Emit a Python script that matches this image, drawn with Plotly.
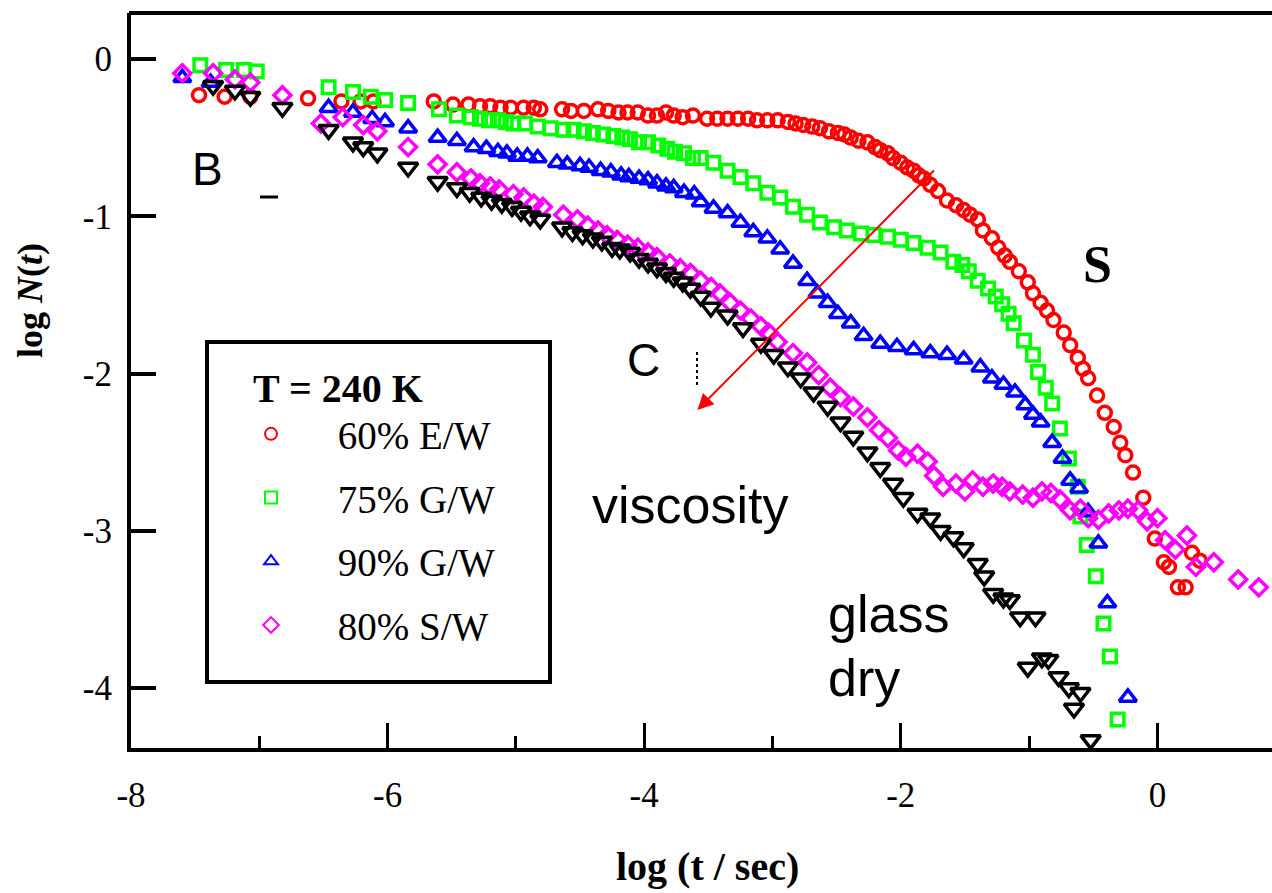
import plotly.graph_objects as go

# ---------------- data (log t, log N) ----------------
ew60_x = [-7.47, -7.27, -7.07, -6.62, -6.36, -6.21, -6.11, -5.64, -5.49, -5.37, -5.28, -5.20, -5.12, -5.04,
          -4.94, -4.86, -4.81, -4.64, -4.57, -4.47, -4.36, -4.28, -4.20, -4.13, -4.05, -3.97, -3.90, -3.83,
          -3.77, -3.70, -3.62, -3.51, -3.43, -3.35, -3.27, -3.19, -3.12, -3.04, -2.96, -2.88, -2.82, -2.76,
          -2.69, -2.63, -2.56, -2.49, -2.44, -2.39, -2.33, -2.26, -2.20, -2.16, -2.10, -2.06, -2.00, -1.95,
          -1.90, -1.86, -1.82, -1.77, -1.71, -1.64, -1.57, -1.51, -1.46, -1.40, -1.36, -1.29, -1.24, -1.19,
          -1.15, -1.08, -1.01, -0.97, -0.91, -0.86, -0.81, -0.73, -0.68, -0.62, -0.58, -0.54, -0.47, -0.41,
          -0.34, -0.29, -0.25, -0.19, -0.11, -0.02, 0.05, 0.09, 0.16, 0.22, 0.27, 0.33]
ew60_y = [-0.23, -0.24, -0.24, -0.25, -0.27, -0.27, -0.27, -0.27, -0.29, -0.29, -0.30, -0.30, -0.31, -0.31,
          -0.31, -0.31, -0.32, -0.32, -0.33, -0.33, -0.32, -0.33, -0.34, -0.34, -0.34, -0.36, -0.36, -0.34,
          -0.36, -0.37, -0.36, -0.38, -0.38, -0.38, -0.38, -0.38, -0.39, -0.39, -0.39, -0.40, -0.41, -0.42,
          -0.43, -0.44, -0.46, -0.47, -0.48, -0.50, -0.52, -0.53, -0.56, -0.58, -0.60, -0.63, -0.66, -0.69,
          -0.71, -0.74, -0.76, -0.80, -0.84, -0.90, -0.93, -0.96, -0.99, -1.02, -1.09, -1.14, -1.20, -1.25,
          -1.29, -1.35, -1.42, -1.49, -1.55, -1.60, -1.66, -1.74, -1.82, -1.90, -1.97, -2.03, -2.14, -2.25,
          -2.34, -2.44, -2.52, -2.63, -2.79, -3.05, -3.20, -3.23, -3.36, -3.36, -3.14, -3.19]

gw75_x = [-7.46, -7.26, -7.12, -7.02, -6.46, -6.27, -6.13, -6.02, -5.84, -5.60, -5.46, -5.35, -5.28, -5.21,
          -5.14, -5.08, -5.02, -4.93, -4.83, -4.73, -4.63, -4.55, -4.47, -4.40, -4.32, -4.24, -4.17, -4.11,
          -4.04, -3.97, -3.89, -3.82, -3.76, -3.69, -3.62, -3.56, -3.46, -3.35, -3.25, -3.15, -3.04, -2.94,
          -2.84, -2.73, -2.63, -2.52, -2.42, -2.31, -2.21, -2.10, -2.00, -1.90, -1.79, -1.69, -1.59, -1.52,
          -1.47, -1.40, -1.32, -1.26, -1.21, -1.16, -1.12, -1.04, -0.97, -0.93, -0.87, -0.82, -0.76, -0.69,
          -0.62, -0.60, -0.55, -0.48, -0.42, -0.37, -0.31]
gw75_y = [-0.04, -0.07, -0.07, -0.08, -0.18, -0.21, -0.24, -0.26, -0.28, -0.32, -0.36, -0.37, -0.38, -0.39,
          -0.39, -0.40, -0.41, -0.41, -0.43, -0.44, -0.45, -0.45, -0.46, -0.47, -0.48, -0.49, -0.50, -0.51,
          -0.53, -0.53, -0.55, -0.57, -0.59, -0.60, -0.63, -0.63, -0.66, -0.71, -0.75, -0.79, -0.85, -0.88,
          -0.94, -0.99, -1.04, -1.07, -1.09, -1.11, -1.12, -1.13, -1.15, -1.17, -1.20, -1.23, -1.29, -1.31,
          -1.35, -1.41, -1.46, -1.51, -1.56, -1.62, -1.68, -1.79, -1.88, -1.99, -2.09, -2.19, -2.35, -2.54,
          -2.72, -2.91, -3.09, -3.29, -3.59, -3.80, -4.20]

gw90_x = [-7.60, -7.38, -6.46, -6.27, -6.12, -6.02, -5.84, -5.61, -5.46, -5.33, -5.23, -5.14, -5.07, -4.99,
          -4.91, -4.83, -4.68, -4.60, -4.50, -4.43, -4.34, -4.26, -4.18, -4.12, -4.04, -3.97, -3.90, -3.83,
          -3.77, -3.69, -3.61, -3.56, -3.46, -3.35, -3.25, -3.15, -3.04, -2.94, -2.84, -2.73, -2.65, -2.57,
          -2.49, -2.39, -2.29, -2.16, -2.03, -1.90, -1.77, -1.64, -1.51, -1.38, -1.29, -1.20, -1.11, -1.03,
          -0.97, -0.91, -0.82, -0.74, -0.68, -0.61, -0.54, -0.46, -0.39, -0.23]
gw90_y = [-0.12, -0.15, -0.31, -0.34, -0.38, -0.40, -0.44, -0.50, -0.52, -0.56, -0.57, -0.59, -0.60, -0.62,
          -0.62, -0.63, -0.66, -0.67, -0.68, -0.69, -0.71, -0.72, -0.74, -0.75, -0.76, -0.77, -0.79, -0.81,
          -0.82, -0.85, -0.86, -0.91, -0.95, -0.98, -1.04, -1.10, -1.14, -1.21, -1.30, -1.41, -1.49, -1.55,
          -1.62, -1.68, -1.76, -1.81, -1.83, -1.85, -1.87, -1.88, -1.91, -1.96, -2.03, -2.07, -2.12, -2.20,
          -2.26, -2.31, -2.44, -2.54, -2.68, -2.73, -2.88, -3.08, -3.46, -4.06]

sw80_x = [-7.60, -7.36, -7.19, -7.07, -6.82, -6.52, -6.35, -6.19, -6.08, -5.84, -5.61, -5.46, -5.35, -5.28,
          -5.20, -5.13, -5.02, -4.94, -4.86, -4.79, -4.63, -4.52, -4.44, -4.36, -4.29, -4.21, -4.13, -4.05,
          -3.97, -3.90, -3.80, -3.72, -3.64, -3.56, -3.48, -3.41, -3.33, -3.25, -3.17, -3.09, -3.03, -2.96,
          -2.84, -2.73, -2.64, -2.55, -2.47, -2.37, -2.26, -2.17, -2.10, -2.02, -1.96, -1.87, -1.79, -1.74,
          -1.67, -1.57, -1.50, -1.44, -1.36, -1.28, -1.21, -1.15, -1.05, -0.97, -0.90, -0.83, -0.76, -0.68,
          -0.60, -0.54, -0.46, -0.38, -0.30, -0.23, -0.15, -0.08, 0.00, 0.06, 0.14, 0.23, 0.30, 0.44,
          0.63, 0.79]
sw80_y = [-0.09, -0.09, -0.13, -0.15, -0.23, -0.41, -0.37, -0.42, -0.46, -0.56, -0.67, -0.72, -0.76, -0.79,
          -0.81, -0.83, -0.86, -0.88, -0.92, -0.94, -0.99, -1.02, -1.06, -1.09, -1.12, -1.15, -1.18, -1.20,
          -1.23, -1.26, -1.30, -1.33, -1.36, -1.41, -1.45, -1.49, -1.55, -1.60, -1.65, -1.70, -1.74, -1.80,
          -1.87, -1.93, -2.01, -2.09, -2.15, -2.21, -2.28, -2.36, -2.41, -2.49, -2.53, -2.51, -2.56, -2.65,
          -2.72, -2.70, -2.75, -2.68, -2.72, -2.70, -2.72, -2.75, -2.77, -2.79, -2.75, -2.76, -2.80, -2.87,
          -2.86, -2.92, -2.93, -2.89, -2.87, -2.86, -2.87, -2.94, -2.92, -3.06, -3.12, -3.03, -3.23, -3.20,
          -3.31, -3.36]

dry_x = [-7.36, -7.19, -7.07, -6.82, -6.46, -6.27, -6.19, -6.08, -5.84, -5.61, -5.46, -5.36, -5.27, -5.19,
         -5.11, -5.03, -4.96, -4.89, -4.81, -4.64, -4.56, -4.48, -4.40, -4.33, -4.25, -4.19, -4.11, -4.04,
         -3.97, -3.90, -3.83, -3.77, -3.70, -3.64, -3.56, -3.48, -3.35, -3.23, -3.09, -2.99, -2.88, -2.78,
         -2.68, -2.57, -2.47, -2.37, -2.26, -2.16, -2.06, -1.98, -1.87, -1.77, -1.69, -1.59, -1.51, -1.40,
         -1.35, -1.28, -1.20, -1.15, -1.07, -0.95, -1.01, -0.90, -0.85, -0.77, -0.69, -0.60, -0.65, -0.52]
dry_y = [-0.17, -0.20, -0.24, -0.31, -0.45, -0.53, -0.56, -0.60, -0.69, -0.78, -0.82, -0.85, -0.88, -0.90,
         -0.92, -0.94, -0.97, -1.00, -1.02, -1.07, -1.10, -1.12, -1.14, -1.16, -1.20, -1.21, -1.23, -1.27,
         -1.30, -1.33, -1.36, -1.39, -1.42, -1.46, -1.51, -1.58, -1.63, -1.71, -1.81, -1.88, -1.96, -2.03,
         -2.12, -2.21, -2.31, -2.40, -2.50, -2.60, -2.70, -2.79, -2.89, -2.92, -3.00, -3.04, -3.11, -3.21,
         -3.29, -3.40, -3.43, -3.44, -3.55, -3.55, -3.87, -3.81, -3.82, -3.93, -4.00, -4.03, -4.13, -4.33]

series_names = ["60% E/W", "75% G/W", "90% G/W", "80% S/W"]
x_tickvals = [-8, -6, -4, -2, 0]
x_ticktext = ["-8", "-6", "-4", "-2", "0"]
x_minor = [-7, -5, -3, -1]
y_tickvals = [0, -1, -2, -3, -4]
y_ticktext = ["0", "-1", "-2", "-3", "-4"]

# ---------------- layout geometry (pixels) ----------------
W, H = 1272, 893
L, R, T, B = 131, 0, 13, 145
PW, PH = W - L - R, H - T - B


def px(xp):
    return (xp - L) / PW


def py(yp):
    return (H - B - yp) / PH


SERIF = "Liberation Serif"
SANS = "Liberation Sans"
PAD = "\u00a0" * 4 + "\u2009"   # gap between legend symbol and label

fig = go.Figure()

styles = [
    (ew60_x, ew60_y, "circle-open", 13, "#ff0000", series_names[0], True),
    (gw75_x, gw75_y, "square-open", 12.5, "#00ff00", series_names[1], True),
    (gw90_x, gw90_y, "triangle-up-open", 15, "#0000ff", series_names[2], True),
    (sw80_x, sw80_y, "diamond-open", 13, "#ff00ff", series_names[3], True),
    (dry_x, dry_y, "triangle-down-open", 17, "#000000", "dry glass", False),
]
for i, (xs, ys, sym, sz, col, name, sl) in enumerate(styles):
    fig.add_trace(go.Scatter(
        x=xs, y=ys, mode="markers", name=PAD + name, showlegend=sl,
        legendgroup="g%d" % i,
        marker=dict(symbol=sym, size=sz, color=col, line=dict(width=3.5, color=col)),
    ))

fig.update_layout(
    width=W, height=H, autosize=False,
    margin=dict(l=L, r=R, t=T, b=B, pad=0),
    paper_bgcolor="white", plot_bgcolor="white",
    font=dict(family=SERIF, color="black"),
    showlegend=True,
    legend=dict(
        x=px(251), y=py(350), xanchor="left", yanchor="top",
        bgcolor="rgba(0,0,0,0)", borderwidth=0,
        font=dict(family=SERIF, size=39, color="black"),
        title=dict(text="<b>T = 240 K</b>", font=dict(family=SERIF, size=40, color="black")),
        itemwidth=30, itemsizing="constant",
        traceorder="grouped", tracegroupgap=10,
    ),
    xaxis=dict(
        range=[-8, -8 + (W - L - 0.5) / 128.3 + 0.004],
        showline=True, linewidth=4, linecolor="black", mirror=False,
        showgrid=False, zeroline=False,
        ticks="inside", ticklen=25, tickwidth=3, tickcolor="black",
        tickvals=x_tickvals, ticktext=x_ticktext,
        tickfont=dict(family=SERIF, size=35, color="black"),
        ticklabelstandoff=13,
        minor=dict(ticks="inside", ticklen=12, tickwidth=3, tickcolor="black", tickvals=x_minor),
    ),
    yaxis=dict(
        range=[-4.3815, 0.2925],
        showline=True, linewidth=4, linecolor="black", mirror=False,
        showgrid=False, zeroline=False,
        ticks="inside", ticklen=25, tickwidth=4, tickcolor="black",
        tickvals=y_tickvals, ticktext=y_ticktext,
        tickfont=dict(family=SERIF, size=35, color="black"),
        ticklabelstandoff=8,
    ),
)

shapes = [
    # top frame line
    dict(type="line", xref="paper", yref="paper", x0=px(129), x1=1, y0=py(13), y1=py(13),
         line=dict(color="black", width=4)),
    # legend frame
    dict(type="rect", xref="paper", yref="paper", x0=px(207), x1=px(550), y0=py(342), y1=py(682),
         line=dict(color="black", width=4), fillcolor="rgba(0,0,0,0)"),
    # small leftover mark near B
    dict(type="line", xref="paper", yref="paper", x0=px(260), x1=px(278), y0=py(197), y1=py(197),
         line=dict(color="black", width=3)),
    # small leftover mark near C
    dict(type="line", xref="paper", yref="paper", x0=px(697), x1=px(697), y0=py(352), y1=py(386),
         line=dict(color="black", width=2, dash="dot")),
]
fig.update_layout(shapes=shapes)

ann = []


def text(s, xp, yp, size, family=SANS, xanchor="center", yanchor="middle", angle=0):
    ann.append(dict(text=s, x=px(xp), y=py(yp), xref="paper", yref="paper", showarrow=False,
                    xanchor=xanchor, yanchor=yanchor, textangle=angle,
                    font=dict(family=family, size=size, color="black")))


text("B", 207, 169, 46)
text("C", 643, 360, 46)
text("viscosity", 590, 505, 52, xanchor="left")
text("glass", 826, 614, 52, xanchor="left")
text("dry", 826, 678, 52, xanchor="left")
text("<b>S</b>", 1097, 264, 52, family=SERIF)
text("<b>log (t / sec)</b>", 707, 866, 40, family=SERIF)
text("<b>log <i>N</i>(<i>t</i>)</b>", 30, 300, 36, family=SERIF, angle=-90)

# red arrow (head at lower left)
ann.append(dict(x=-3.585, y=-2.232, ax=-1.73, ay=-0.70, xref="x", yref="y", axref="x", ayref="y",
                showarrow=True, arrowhead=2, arrowsize=1.6, arrowwidth=2, arrowcolor="#ff0000", text=""))

fig.update_layout(annotations=ann)

fig.write_html("out.html")
